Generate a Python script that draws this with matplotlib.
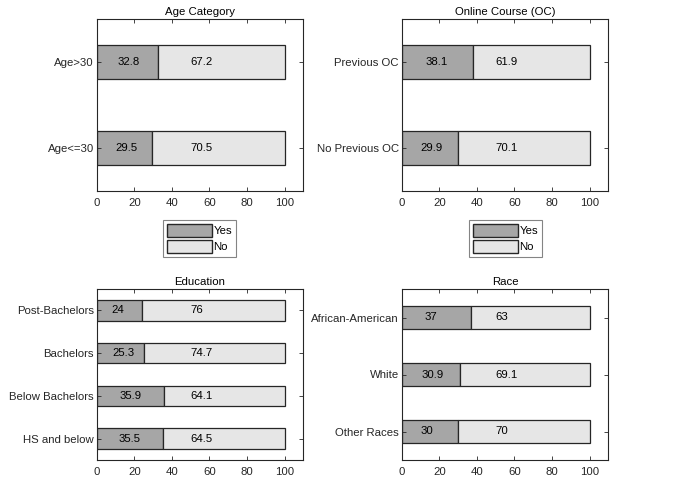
import matplotlib
matplotlib.use("Agg")
import matplotlib.pyplot as plt
from matplotlib.patches import Patch

plt.rcParams["font.family"] = ["Liberation Sans", "DejaVu Sans"]
plt.rcParams["font.size"] = 8.2

# data (percent Yes / No)
age_cats = ["Age<=30", "Age>30"]
age_yes = [29.5, 32.8]
age_no = [70.5, 67.2]

oc_cats = ["No Previous OC", "Previous OC"]
oc_yes = [29.9, 38.1]
oc_no = [70.1, 61.9]

edu_cats = ["HS and below", "Below Bachelors", "Bachelors", "Post-Bachelors"]
edu_yes = [35.5, 35.9, 25.3, 24]
edu_no = [64.5, 64.1, 74.7, 76]

race_cats = ["Other Races", "White", "African-American"]
race_yes = [30, 30.9, 37]
race_no = [70, 69.1, 63]

YES_C = "#a6a6a6"
NO_C = "#e6e6e6"
EDGE = "#262626"
TXT = "#262626"
FS = 8.2

W, H = 673, 499
fig = plt.figure(figsize=(W / 100, H / 100), dpi=100)


def px_axes(x0, y0, x1, y1):
    return fig.add_axes([x0 / W, 1 - y1 / H, (x1 - x0) / W, (y1 - y0) / H])


def draw_panel(ax, title, cats, yes, no, height):
    pos = list(range(1, len(cats) + 1))
    ax.barh(pos, yes, height=height, color=YES_C, edgecolor=EDGE, linewidth=0.9)
    ax.barh(pos, no, left=yes, height=height, color=NO_C, edgecolor=EDGE, linewidth=0.9)
    for p, y, n in zip(pos, yes, no):
        ax.text(y / 3, p, f"{y:g}", ha="left", va="center", color="black", fontsize=FS)
        ax.text((y + n) / 2, p, f"{n:g}", ha="left", va="center", color="black", fontsize=FS)
    ax.set_xlim(0, 110)
    ax.set_ylim(0.5, len(cats) + 0.5)
    ax.set_yticks(pos)
    ax.set_yticklabels(cats)
    ax.set_xticks([0, 20, 40, 60, 80, 100])
    ax.set_title(title, fontsize=FS, color="black", pad=3)
    ax.tick_params(direction="in", length=3, width=0.6, top=True, right=True,
                   colors=TXT, labelcolor=TXT, labelsize=FS, pad=2)
    ax.tick_params(axis="x", pad=5)
    for s in ax.spines.values():
        s.set_color(EDGE)
        s.set_linewidth(0.8)


ax1 = px_axes(96.7, 19.3, 303.3, 190.7)
ax2 = px_axes(401.7, 19.3, 608.3, 190.7)
ax3 = px_axes(96.7, 289, 303.3, 460)
ax4 = px_axes(401.7, 289, 608.3, 460)

draw_panel(ax1, "Age Category", age_cats, age_yes, age_no, 0.4)
draw_panel(ax2, "Online Course (OC)", oc_cats, oc_yes, oc_no, 0.4)
draw_panel(ax3, "Education", edu_cats, edu_yes, edu_no, 0.48)
draw_panel(ax4, "Race", race_cats, race_yes, race_no, 0.4)

handles = [Patch(facecolor=YES_C, edgecolor=EDGE, label="Yes"),
           Patch(facecolor=NO_C, edgecolor=EDGE, label="No")]
for lx in (163.3, 469.3):
    leg = fig.legend(handles=handles, loc="upper left",
                     bbox_to_anchor=(lx / W, 1 - 220 / H),
                     frameon=True, fancybox=False, fontsize=FS,
                     handlelength=3.9, handleheight=1.35, handletextpad=0.15,
                     labelspacing=0.3, borderpad=0.35, borderaxespad=0)
    leg.get_frame().set_edgecolor("#666666")
    leg.get_frame().set_linewidth(0.8)

fig.savefig("out.png", dpi=100)
